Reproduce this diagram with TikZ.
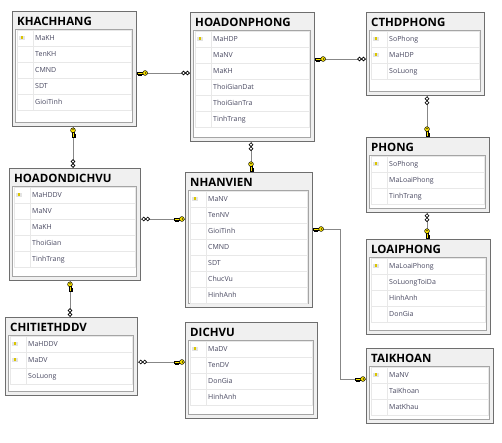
\documentclass[tikz,border=0pt]{standalone}
\usepackage{fontspec}
\setmainfont{Open Sans}
\usepackage{tikz}
\usetikzlibrary{calc}
\usepackage{xcolor}
\definecolor{tblborder}{RGB}{110,110,110}
\definecolor{tblhead}{RGB}{240,240,240}
\definecolor{innerborder}{RGB}{165,165,165}
\definecolor{rowborder}{RGB}{232,232,232}
\definecolor{fieldtext}{RGB}{72,72,96}
\definecolor{keyyellow}{RGB}{255,232,0}
\definecolor{linkgray}{RGB}{135,135,135}

% table: name, left, top, width, height, title, rows (key/field)
\newcommand{\dbtable}[7]{%
  \node[tblbox, minimum width=#4pt, minimum height=#5pt, anchor=north west] (#1) at (#2,#3) {};
  \node[tbltitle, anchor=base west] (#1-title) at (#2+5,#3+14.5) {#6};
  \filldraw[fill=white, draw=innerborder, line width=0.8pt] (#2+3.5,#3+18) rectangle ({#2+#4-3.5},{#3+#5-3.5});
  \foreach \k/\f [count=\i] in {#7} {
    \draw[rowborder, line width=0.6pt] ({#2+5},{#3+19+16*(\i-1)}) rectangle ({#2+#4-5},{#3+19+16*\i});
    \draw[rowborder, line width=0.6pt] ({#2+21},{#3+19+16*(\i-1)}) -- ({#2+21},{#3+19+16*\i});
    \node[field, anchor=mid west] (#1-\i) at ({#2+23},{#3+27+16*(\i-1)}) {\f};
    \ifnum\k=1 \pic at ({#2+10},{#3+27+16*(\i-1)}) {rowkey};\fi
  }
}

\begin{document}
\begin{tikzpicture}[
    x=1pt, y=-1pt,
    tblbox/.style={rectangle, draw=tblborder, line width=1.2pt, fill=tblhead, inner sep=0pt},
    tbltitle/.style={font=\fontsize{11.5}{13}\selectfont\bfseries, inner sep=0pt},
    field/.style={font=\fontsize{7}{8}\selectfont, text=fieldtext, inner sep=0pt},
    conn/.style={draw=linkgray, line width=0.8pt},
    rowkey/.pic={\fill[gray!22] (-3,-2) rectangle (3,2); \fill[keyyellow!85!black] (-1,-1.6) rectangle (0.8,0.8);},
    linkkey/.pic={
      \filldraw[fill=keyyellow, draw=black, line width=0.5pt] (-5,-0.9) rectangle (0.5,0.9) (-4.6,0.9) rectangle (-3.6,2.3) (-2.6,0.9) rectangle (-1.6,2);
      \filldraw[fill=keyyellow, draw=black, line width=0.5pt] (2.4,0) circle (2.4pt);
      \fill[black] (2.9,0) circle (0.7pt);},
    linkmany/.pic={\filldraw[fill=white, draw=black, line width=0.6pt] (-2,0) circle (1.9pt) (2,0) circle (1.9pt);}
]
\useasboundingbox (0,0) rectangle (502,443);

% Top row
\dbtable{khachhang}{12}{11}{124}{115}{KHACHHANG}{1/MaKH,0/TenKH,0/CMND,0/SDT,0/GioiTinh}
\dbtable{hoadonphong}{190}{12}{124}{129}{HOADONPHONG}{1/MaHDP,0/MaNV,0/MaKH,0/ThoiGianDat,0/ThoiGianTra,0/TinhTrang}
\dbtable{cthdphong}{366}{12}{118}{83}{CTHDPHONG}{1/SoPhong,1/MaHDP,0/SoLuong}

% Middle
\dbtable{hoadondichvu}{9}{168}{131}{112}{HOADONDICHVU}{1/MaHDDV,0/MaNV,0/MaKH,0/ThoiGian,0/TinhTrang}
\dbtable{nhanvien}{185}{172}{127}{135}{NHANVIEN}{1/MaNV,0/TenNV,0/GioiTinh,0/CMND,0/SDT,0/ChucVu,0/HinhAnh}
\dbtable{phong}{366}{137}{123}{75}{PHONG}{1/SoPhong,0/MaLoaiPhong,0/TinhTrang}
\dbtable{loaiphong}{366}{239}{124}{95}{LOAIPHONG}{1/MaLoaiPhong,0/SoLuongToiDa,0/HinhAnh,0/DonGia}

% Bottom row
\dbtable{chitiethddv}{5}{317}{132}{78}{CHITIETHDDV}{1/MaHDDV,1/MaDV,0/SoLuong}
\dbtable{dichvu}{185}{322}{132}{96}{DICHVU}{1/MaDV,0/TenDV,0/DonGia,0/HinhAnh}
\dbtable{taikhoan}{366}{348}{127}{75}{TAIKHOAN}{1/MaNV,0/TaiKhoan,0/MatKhau}

% Relationships
\draw[conn] (khachhang.east |- 0,73) coordinate (kh-hdp) -- (hoadonphong.west |- 0,73) coordinate (hdp-kh);
\pic at ([xshift=5.5pt]kh-hdp) {linkkey};
\pic at ([xshift=-4.5pt]hdp-kh) {linkmany};

\draw[conn] (hoadonphong.east |- 0,59) coordinate (hdp-ct) -- (cthdphong.west |- 0,59) coordinate (ct-hdp);
\pic at ([xshift=5.5pt]hdp-ct) {linkkey};
\pic at ([xshift=-4.5pt]ct-hdp) {linkmany};

\draw[conn] (cthdphong.south -| 427,0) coordinate (ct-ph) -- (phong.north -| 427,0) coordinate (ph-ct);
\pic[rotate=90] at ([yshift=-4.5pt]ct-ph) {linkmany};
\pic[rotate=90] at ([yshift=5.5pt]ph-ct) {linkkey};

\draw[conn] (phong.south -| 427,0) coordinate (ph-lp) -- (loaiphong.north -| 427,0) coordinate (lp-ph);
\pic[rotate=90] at ([yshift=-4.5pt]ph-lp) {linkmany};
\pic[rotate=90] at ([yshift=5.5pt]lp-ph) {linkkey};

\draw[conn] (hoadonphong.south -| 251,0) coordinate (hdp-nv) -- (nhanvien.north -| 251,0) coordinate (nv-hdp);
\pic[rotate=90] at ([yshift=-4.5pt]hdp-nv) {linkmany};
\pic[rotate=90] at ([yshift=5.5pt]nv-hdp) {linkkey};

\draw[conn] (khachhang.south -| 73,0) coordinate (kh-hddv) -- (hoadondichvu.north -| 73,0) coordinate (hddv-kh);
\pic[rotate=90] at ([yshift=-5.5pt]kh-hddv) {linkkey};
\pic[rotate=90] at ([yshift=4.5pt]hddv-kh) {linkmany};

\draw[conn] (hoadondichvu.east |- 0,219) coordinate (hddv-nv) -- (nhanvien.west |- 0,219) coordinate (nv-hddv);
\pic at ([xshift=4.5pt]hddv-nv) {linkmany};
\pic at ([xshift=-5.5pt]nv-hddv) {linkkey};

\draw[conn] (hoadondichvu.south -| 70,0) coordinate (hddv-ct) -- (chitiethddv.north -| 70,0) coordinate (ct-hddv);
\pic[rotate=90] at ([yshift=-5.5pt]hddv-ct) {linkkey};
\pic[rotate=90] at ([yshift=4.5pt]ct-hddv) {linkmany};

\draw[conn] (chitiethddv.east |- 0,362) coordinate (ct-dv) -- (dichvu.west |- 0,362) coordinate (dv-ct);
\pic at ([xshift=4.5pt]ct-dv) {linkmany};
\pic at ([xshift=-5.5pt]dv-ct) {linkkey};

\coordinate (bend-tk) at (340,379);
\draw[conn] (nhanvien.east |- 0,229) coordinate (nv-tk) -| (bend-tk) -- (taikhoan.west |- 0,379) coordinate (tk-nv);
\pic at ([xshift=5.5pt]nv-tk) {linkkey};
\pic at ([xshift=-5.5pt]tk-nv) {linkkey};

\end{tikzpicture}
\end{document}
